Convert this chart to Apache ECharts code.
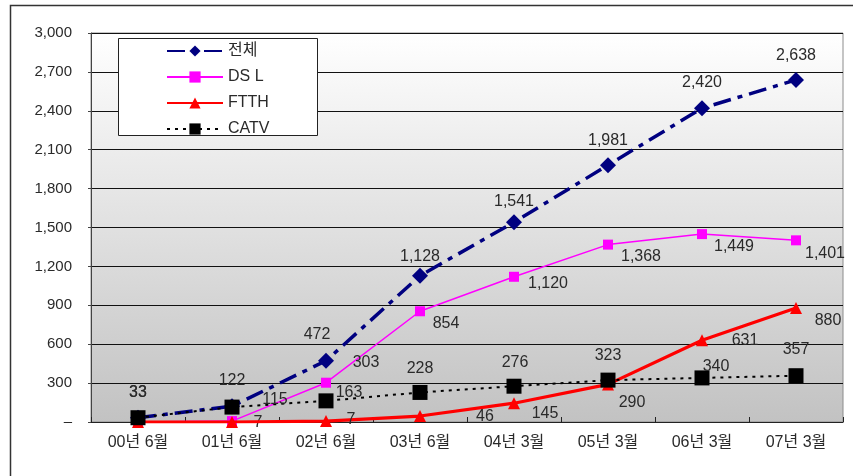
<!DOCTYPE html>
<html>
<head>
<meta charset="utf-8">
<script src="https://cdn.jsdelivr.net/npm/echarts@6/dist/echarts.min.js"></script>
<style>
  html, body { margin: 0; padding: 0; background: #ffffff; }
  #chart { width: 853px; height: 476px; }
</style>
</head>
<body>
<div id="chart"></div>
<script>
// Broadband subscribers by access type (thousands)
const categories = ['00년 6월', '01년 6월', '02년 6월', '03년 6월', '04년 3월', '05년 3월', '06년 3월', '07년 3월'];
const totalValues = [33, 122, 472, 1128, 1541, 1981, 2420, 2638];
const dslValues   = [0, 7, 303, 854, 1120, 1368, 1449, 1401];
const ftthValues  = [0, 0, 7, 46, 145, 290, 631, 880];
const catvValues  = [33, 115, 163, 228, 276, 323, 340, 357];
const yTicks = { min: 0, max: 3000, step: 300 };

// Label placement relative to each marker centre [dx, dy]
const totalLabelShift = [[0, -25], [0, -26], [-9, -26], [0, -19], [0, -21], [0, -25], [0, -26], [0, -24]];
const dslLabelShift   = [[0, 0], [26, 2], [40, -20], [26, 12], [34, 7], [33, 12], [32, 12], [29, 13]];
const ftthLabelShift  = [[0, 0], [26, 0], [25, -1], [65, 1], [31, 10], [24, 18], [43, 0], [32, 13]];
const catvLabelShift  = [[0, -25], [43, -7], [23, -8], [0, -24], [1, -24], [0, -25], [14, -11], [0, -26]];

const fmt = v => v === 0 ? '' : v.toLocaleString('en-US');
const FONT = '"Liberation Sans", "Noto Sans CJK KR", sans-serif';
const TEXT = '#2a2a2a';

function withLabels(values, shifts) {
  return values.map((v, i) => ({
    value: v,
    label: { offset: shifts[i] }
  }));
}

const labelBase = {
  show: true,
  position: 'inside',
  align: 'center',
  verticalAlign: 'middle',
  color: TEXT,
  fontSize: 16,
  fontFamily: FONT,
  formatter: p => fmt(p.value)
};

const chart = echarts.init(document.getElementById('chart'), null, { renderer: 'canvas' });

chart.setOption({
  animation: false,
  textStyle: { fontFamily: FONT },
  grid: {
    left: 91, top: 33, right: 10, bottom: 54,
    show: true,
    borderColor: '#8c8c8c',
    borderWidth: 1,
    backgroundColor: new echarts.graphic.LinearGradient(0, 0, 0, 1, [
      { offset: 0, color: '#ffffff' },
      { offset: 1, color: '#c2c2c2' }
    ])
  },
  graphic: [{
    type: 'rect',
    left: 8, top: 3,
    shape: { width: 850, height: 480 },
    style: { fill: 'none', stroke: '#333', lineWidth: 1.5 },
    silent: true, z: -1
  }, {
    type: 'rect',
    left: 118, top: 38,
    shape: { width: 199, height: 97 },
    style: { fill: '#ffffff', stroke: '#222', lineWidth: 1 },
    silent: true, z: 10
  }],
  legend: {
    orient: 'vertical',
    left: 166, top: 43,
    itemWidth: 56, itemHeight: 14, itemGap: 10,
    padding: 0,
    z: 11,
    textStyle: { fontSize: 16, color: TEXT, fontFamily: FONT },
    data: ['전체', 'DS L', 'FTTH', 'CATV']
  },
  xAxis: {
    type: 'category',
    data: categories,
    boundaryGap: true,
    axisLine: { lineStyle: { color: '#222', width: 1.2 } },
    axisTick: { show: true, inside: true, length: 5, lineStyle: { color: '#222' } },
    axisLabel: { color: TEXT, fontSize: 16, margin: 13, fontFamily: FONT }
  },
  yAxis: {
    type: 'value',
    min: yTicks.min, max: yTicks.max, interval: yTicks.step,
    axisLine: { show: true, lineStyle: { color: '#444' } },
    axisTick: { show: true, length: 3, lineStyle: { color: '#444' } },
    axisLabel: {
      color: TEXT, fontSize: 15, margin: 19, fontFamily: FONT,
      formatter: v => v === 0 ? '–' : v.toLocaleString('en-US')
    },
    splitLine: { show: true, lineStyle: { color: '#111', width: 1 } }
  },
  series: [{
    name: '전체',
    type: 'line',
    z: 3,
    data: withLabels(totalValues, totalLabelShift),
    symbol: 'diamond', symbolSize: 16,
    itemStyle: { color: '#000080' },
    lineStyle: { color: '#000080', width: 3.5, type: [18, 7, 5, 7] },
    label: labelBase
  }, {
    name: 'DS L',
    type: 'line',
    z: 4,
    data: withLabels(dslValues, dslLabelShift),
    symbol: 'rect', symbolSize: 10,
    itemStyle: { color: '#ff00ff' },
    lineStyle: { color: '#ff00ff', width: 1.5 },
    label: labelBase
  }, {
    name: 'FTTH',
    type: 'line',
    z: 5,
    data: withLabels(ftthValues, ftthLabelShift),
    symbol: 'triangle', symbolSize: 12,
    itemStyle: { color: '#ff0000' },
    lineStyle: { color: '#ff0000', width: 3.2 },
    label: labelBase
  }, {
    name: 'CATV',
    type: 'line',
    z: 6,
    data: withLabels(catvValues, catvLabelShift),
    symbol: 'rect', symbolSize: 15,
    itemStyle: { color: '#000000' },
    lineStyle: { color: '#000000', width: 2, type: [3, 5] },
    label: labelBase
  }]
});
</script>
</body>
</html>
